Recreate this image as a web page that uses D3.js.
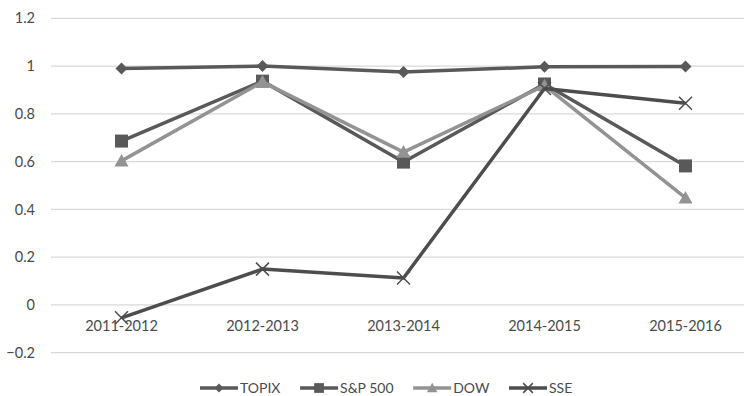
<!DOCTYPE html>
<html>
<head>
<meta charset="utf-8">
<script src="https://cdn.jsdelivr.net/npm/d3@7/dist/d3.min.js"></script>
<style>
  html, body { margin: 0; padding: 0; background: #fff; }
  svg { display: block; }
  text { font-family: Lato, "Open Sans", sans-serif; fill: #4a4a4a; }
</style>
</head>
<body>
<svg id="chart" width="744" height="396"></svg>
<script>
// Periods on the x axis
const categories = ["2011-2012", "2012-2013", "2013-2014", "2014-2015", "2015-2016"];

// Correlation values per index
const topix = [0.99, 1.0, 0.975, 0.997, 0.998];
const sp500 = [0.686, 0.937, 0.598, 0.925, 0.582];
const dow   = [0.603, 0.934, 0.64, 0.918, 0.448];
const sse   = [-0.054, 0.15, 0.113, 0.906, 0.844];

const yTicks = [-0.2, 0, 0.2, 0.4, 0.6, 0.8, 1, 1.2];

const series = [
  { name: "TOPIX",   values: topix, color: "#595959", marker: "diamond" },
  { name: "S&P 500", values: sp500, color: "#595959", marker: "square" },
  { name: "DOW",     values: dow,   color: "#939393", marker: "triangle" },
  { name: "SSE",     values: sse,   color: "#4d4d4d", marker: "cross" }
];

const svg = d3.select("#chart");
const plotLeft = 51, plotRight = 756;

const x = d3.scaleBand().domain(categories).range([plotLeft, plotRight]);
const y = d3.scaleLinear().domain([-0.2, 1.2]).range([352.7, 18.3]);

// Horizontal gridlines
svg.append("g")
  .selectAll("line")
  .data(yTicks)
  .join("line")
  .attr("x1", plotLeft).attr("x2", 744)
  .attr("y1", d => y(d)).attr("y2", d => y(d))
  .attr("stroke", "#d9d9d9").attr("stroke-width", 1.2);

// Y axis labels
const yAxis = d3.axisLeft(y).tickValues(yTicks).tickSize(0).tickPadding(0)
  .tickFormat(d => d3.format("")(+d.toFixed(1)));
svg.append("g")
  .attr("transform", "translate(35,0)")
  .call(yAxis)
  .call(g => g.select(".domain").remove())
  .call(g => g.selectAll("text")
    .style("font-size", "14.5px")
    .style("font-family", "Lato, sans-serif")
    .attr("fill", "#4a4a4a"));

// Category labels sit just below the zero line
const xAxis = d3.axisBottom(x).tickSize(0).tickPadding(0);
svg.append("g")
  .attr("transform", "translate(0,326)")
  .call(xAxis)
  .call(g => g.select(".domain").remove())
  .call(g => g.selectAll("text")
    .attr("dy", "0.35em")
    .style("font-size", "14.5px")
    .style("font-family", "Lato, sans-serif")
    .attr("fill", "#4a4a4a"));

const cx = d => x(d) + x.bandwidth() / 2;

function drawMarker(g, type, color, px, py, scale) {
  const s = scale || 1;
  if (type === "diamond") {
    const r = 6 * s;
    g.append("path")
      .attr("d", `M${px},${py - r}L${px + r},${py}L${px},${py + r}L${px - r},${py}Z`)
      .attr("fill", color);
  } else if (type === "square") {
    const h = 6.5 * s;
    g.append("rect")
      .attr("x", px - h).attr("y", py - h)
      .attr("width", 2 * h).attr("height", 2 * h)
      .attr("fill", color);
  } else if (type === "triangle") {
    const h = 7 * s;
    g.append("path")
      .attr("d", `M${px},${py - h}L${px + h},${py + h * 0.8}L${px - h},${py + h * 0.8}Z`)
      .attr("fill", color);
  } else if (type === "cross") {
    const r = 6.5 * s;
    g.append("path")
      .attr("d", `M${px - r},${py - r}L${px + r},${py + r}M${px - r},${py + r}L${px + r},${py - r}`)
      .attr("stroke", color).attr("stroke-width", 1.5).attr("fill", "none");
  }
}

const line = d3.line()
  .x((d, i) => cx(categories[i]))
  .y(d => y(d));

// Lines and markers, drawn in series order
series.forEach(s => {
  const g = svg.append("g");
  g.append("path")
    .datum(s.values)
    .attr("d", line)
    .attr("fill", "none")
    .attr("stroke", s.color)
    .attr("stroke-width", 3.5)
    .attr("stroke-linejoin", "round");
  s.values.forEach((v, i) => drawMarker(g, s.marker, s.color, cx(categories[i]), y(v), 1));
});

// Legend: items flow left to right with an even gap, spanning a fixed width
const legendY = 388;
const legendStart = 200, legendLastStart = 509;
const swatch = 38, textGap = 2;
const legend = svg.append("g");
const items = series.map(s => {
  const g = legend.append("g");
  g.append("line")
    .attr("x1", 0).attr("x2", swatch)
    .attr("y1", legendY).attr("y2", legendY)
    .attr("stroke", s.color).attr("stroke-width", 3.5);
  drawMarker(g, s.marker, s.color, swatch / 2, legendY, 0.75);
  const t = g.append("text")
    .attr("x", swatch + textGap).attr("y", legendY)
    .attr("dy", "0.35em")
    .style("font-size", "14px")
    .text(s.name);
  return { g, width: swatch + textGap + t.node().getComputedTextLength() };
});
const used = d3.sum(items.slice(0, -1), d => d.width);
const gap = (legendLastStart - legendStart - used) / (items.length - 1);
let pos = legendStart;
items.forEach(it => {
  it.g.attr("transform", `translate(${pos},0)`);
  pos += it.width + gap;
});
</script>
</body>
</html>
